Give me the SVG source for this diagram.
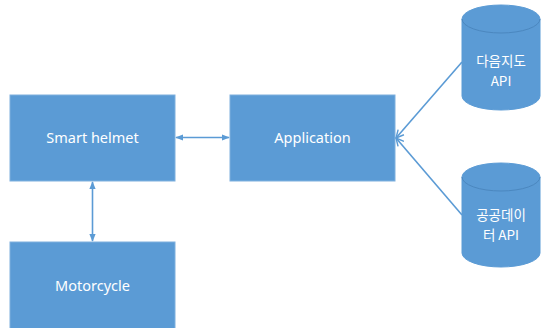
<svg xmlns="http://www.w3.org/2000/svg" width="541" height="328" viewBox="0 0 541 328">
<style>
.box{fill:#5b9bd5;stroke:#7fb0de;stroke-width:1}
.cyl{fill:#5b9bd5;stroke:#5b9bd5;stroke-width:1}
.rim{fill:none;stroke:#4b87bf;stroke-width:1}
.t{font-family:"Noto Sans","Noto Sans CJK KR",sans-serif;font-size:14.5px;fill:#ffffff;text-anchor:middle}
.k{font-family:"Noto Sans CJK KR","Noto Sans",sans-serif;font-size:13.5px;fill:#ffffff;text-anchor:middle}
.c{stroke:#5b9bd5;stroke-width:1.6;fill:none}
</style>
<defs>
<marker id="ah" viewBox="0 0 10 10" refX="9" refY="5" markerWidth="5" markerHeight="5" orient="auto-start-reverse">
<path d="M0,1 L10,5 L0,9 Z" fill="#5b9bd5"/>
</marker>
<marker id="oa" viewBox="0 0 10 10" refX="9" refY="5" markerWidth="6" markerHeight="6" orient="auto">
<path d="M1,1 L9,5 L1,9" fill="none" stroke="#5b9bd5" stroke-width="1.5"/>
</marker>
</defs>
<rect width="541" height="328" fill="#ffffff"/>
<g id="connectors">
<line class="c" x1="176" y1="137.5" x2="229" y2="137.5" marker-start="url(#ah)" marker-end="url(#ah)"/>
<line class="c" x1="92.5" y1="182" x2="92.5" y2="241" marker-start="url(#ah)" marker-end="url(#ah)"/>
<line class="c" x1="462" y1="62" x2="396" y2="138" marker-end="url(#oa)"/>
<line class="c" x1="462" y1="215" x2="396" y2="138" marker-end="url(#oa)"/>
</g>
<g id="smart-helmet">
<rect class="box" x="10" y="95" width="165" height="86"/>
<text class="t" x="92.5" y="143">Smart helmet</text>
</g>
<g id="application">
<rect class="box" x="230" y="95" width="165" height="86"/>
<text class="t" x="312.5" y="143">Application</text>
</g>
<g id="motorcycle">
<rect class="box" x="10" y="242" width="165" height="96"/>
<text class="t" x="92.5" y="291">Motorcycle</text>
</g>
<g id="daum-map-api">
<path class="cyl" d="M462,19 A39,14 0 0 1 540,19 L540,96 A39,14 0 0 1 462,96 Z"/>
<path class="rim" d="M462,19 A39,14 0 0 0 540,19"/>
<text class="k" x="501" y="66">다음지도</text>
<text class="k" x="501" y="86">API</text>
</g>
<g id="public-data-api">
<path class="cyl" d="M462,177 A39,14 0 0 1 540,177 L540,253 A39,14 0 0 1 462,253 Z"/>
<path class="rim" d="M462,177 A39,14 0 0 0 540,177"/>
<text class="k" x="501" y="220">공공데이</text>
<text class="k" x="501" y="240">터 API</text>
</g>
</svg>
